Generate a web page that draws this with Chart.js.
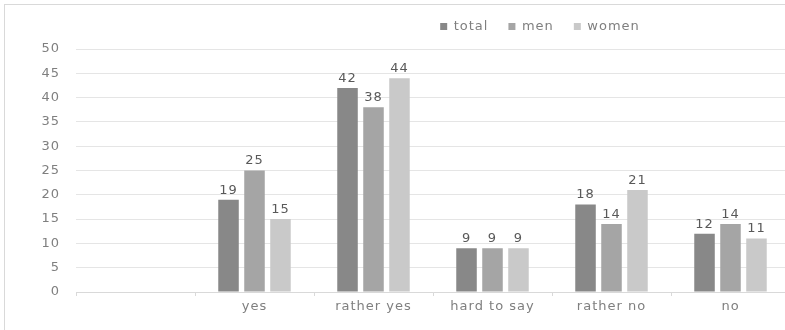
<!DOCTYPE html>
<html>
<head>
<meta charset="utf-8">
<script src="https://cdn.jsdelivr.net/npm/chart.js@4"></script>
<style>
	html, body { margin: 0; padding: 0; background: #ffffff; overflow: hidden; }
	#frame { position: absolute; left: 4px; top: 4px; border-left: 1px solid #d9d9d9; border-top: 1px solid #d9d9d9; }
	#wrap { position: relative; width: 800px; height: 325px; }
</style>
</head>
<body>
<div id="frame"><div id="wrap"><canvas id="survey"></canvas></div></div>
<script>
//
// Données (la première catégorie est vide).
//
const categories = [ "", "yes", "rather yes", "hard to say", "rather no", "no" ];
const total = [ null, 19, 42, 9, 18, 12 ];
const men = [ null, 25, 38, 9, 14, 14 ];
const women = [ null, 15, 44, 9, 21, 11 ];
const y_ticks = { min: 0, max: 50, step: 5 };

const text_font = { family: "DejaVu Sans", size: 13 };
const text_color = "#7f7f7f";

//
// Affiche la valeur au-dessus de chaque barre.
//
const value_labels = {
	id: "value_labels",
	afterDatasetsDraw( chart )
	{
		const ctx = chart.ctx;
		ctx.save();
		ctx.letterSpacing = "1px";
		ctx.font = "13px 'DejaVu Sans'";
		ctx.fillStyle = "#595959";
		ctx.textAlign = "center";
		ctx.textBaseline = "bottom";

		chart.data.datasets.forEach( ( dataset, i ) =>
		{
			chart.getDatasetMeta( i ).data.forEach( ( bar, j ) =>
			{
				const value = dataset.data[ j ];

				if ( value !== null )
				{
					ctx.fillText( value, bar.x, bar.y - 3 );
				}
			} );
		} );

		ctx.restore();
	}
};

//
// Espacement des lettres et décalage de la légende (droite et haut).
//
const text_style = {
	id: "text_style",
	beforeLayout( chart )
	{
		chart.ctx.letterSpacing = "1px";
	},
	beforeDraw( chart )
	{
		chart.ctx.letterSpacing = "1px";

		const legend = chart.legend;
		const center = 535;
		legend.left = center - 300;
		legend.right = center + 300;
		legend.top = legend.top - 6;
	}
};

new Chart( document.getElementById( "survey" ),
	{
		type: "bar",
		data: {
			labels: categories,
			datasets: [
				{ label: "total", data: total, backgroundColor: "#888888" },
				{ label: "men", data: men, backgroundColor: "#a5a5a5" },
				{ label: "women", data: women, backgroundColor: "#c9c9c9" }
			]
		},
		options: {
			responsive: true,
			maintainAspectRatio: false,
			animation: false,
			categoryPercentage: 0.655,
			barPercentage: 0.79,
			layout: {
				padding: { top: 1, right: 15, bottom: 0, left: 0 }
			},
			plugins: {
				legend: {
					display: true,
					position: "top",
					labels: {
						color: text_color,
						font: text_font,
						boxWidth: 7,
						boxHeight: 7,
						padding: 20
					}
				},
				tooltip: { enabled: false }
			},
			scales: {
				x: {
					grid: {
						display: true,
						drawOnChartArea: false,
						drawTicks: true,
						tickLength: 4,
						color: "#d9d9d9"
					},
					border: { display: true, color: "#d9d9d9" },
					ticks: {
						color: text_color,
						font: text_font,
						padding: 3,
						maxRotation: 0
					},
					afterFit( scale ) { scale.height = 38; }
				},
				y: {
					min: y_ticks.min,
					max: y_ticks.max,
					grid: {
						color: "#e5e5e5",
						drawTicks: false
					},
					border: { display: false },
					ticks: {
						stepSize: y_ticks.step,
						color: text_color,
						font: text_font,
						padding: 16
					},
					afterFit( scale ) { scale.width = 71; }
				}
			}
		},
		plugins: [ value_labels, text_style ]
	} );
</script>
</body>
</html>
